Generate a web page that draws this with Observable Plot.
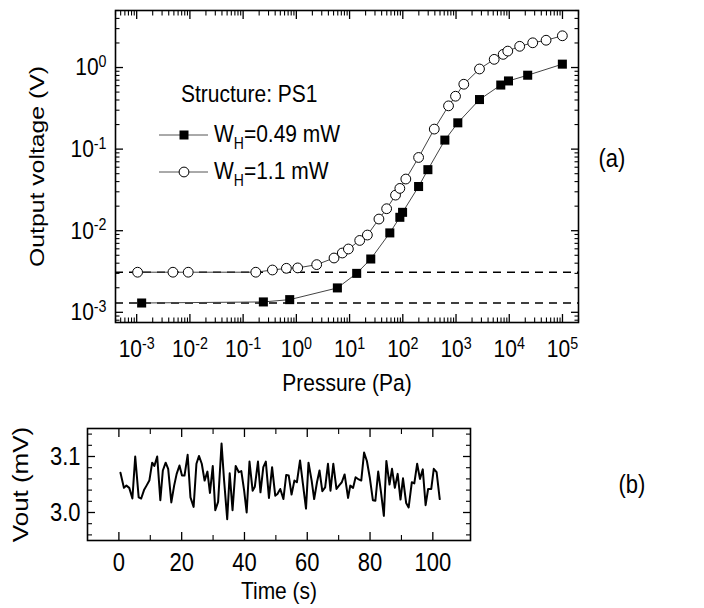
<!DOCTYPE html>
<html><head><meta charset="utf-8">
<script src="https://cdn.jsdelivr.net/npm/d3@7"></script>
<script src="https://cdn.jsdelivr.net/npm/@observablehq/plot@0.6"></script>
<style>
body{margin:0;background:#fff;}
#wrap{position:relative;width:704px;height:608px;font-family:"Liberation Sans",Arial,sans-serif;overflow:hidden;}
#wrap svg{position:absolute;left:0;overflow:visible;}
</style></head><body><div id="wrap"></div>
<script>
// ---------- Panel (a) data ----------
const pressureLow = [1.24e-3, 0.24, 0.75, 5.9, 13.6, 25, 57, 88, 99, 198, 296, 617, 1080, 2760, 6930, 9670, 22200, 99500];
const voltageLow  = [1.30e-3, 1.34e-3, 1.43e-3, 1.99e-3, 3.0e-3, 4.5e-3, 9.4e-3, 0.0146, 0.0168, 0.0348, 0.056, 0.129, 0.21, 0.405, 0.61, 0.685, 0.805, 1.10];
const pressureHigh = [1.04e-3, 4.8e-3, 9.3e-3, 0.173, 0.355, 0.65, 1.06, 2.41, 5.1, 7.3, 9.5, 15.5, 21.6, 35.6, 49.7, 73, 88, 114, 198, 390, 723, 978, 1400, 2760, 5210, 7690, 9380, 15700, 27600, 49200, 99500];
const voltageHigh  = [3.1e-3, 3.1e-3, 3.1e-3, 3.1e-3, 3.3e-3, 3.46e-3, 3.5e-3, 3.84e-3, 4.63e-3, 5.33e-3, 5.97e-3, 7.6e-3, 8.85e-3, 0.0139, 0.0186, 0.0273, 0.033, 0.043, 0.079, 0.176, 0.339, 0.445, 0.624, 0.96, 1.26, 1.45, 1.59, 1.82, 2.01, 2.16, 2.45];
const baselineLevels = [1.3e-3, 3.1e-3];
const pressureTicks = [1e-3, 1e-2, 1e-1, 1, 10, 100, 1e3, 1e4, 1e5];
const voltageTicks = [1e-3, 1e-2, 1e-1, 1];
const legendTitle = "Structure: PS1";
const seriesNames = ["0.49 mW", "1.1 mW"];

// ---------- Panel (b) data ----------
const timeS = [0.5,1.6,2.4,3.3,4.3,5.2,6.3,7.1,8.0,8.8,
 9.7,10.6,11.3,12.2,13.2,14.0,14.9,15.7,16.7,17.6,
 18.4,19.3,20.1,20.9,21.9,22.8,23.8,24.7,25.5,26.4,
 27.3,28.2,29.0,29.9,30.7,31.6,32.7,33.5,34.5,35.3,
 36.2,37.2,38.2,39.0,39.9,40.7,41.6,42.6,43.3,44.3,
 45.1,46.0,46.8,47.8,48.8,49.8,50.5,51.4,52.4,53.3,
 54.1,55.0,55.9,56.7,57.7,58.6,59.6,60.4,61.4,62.2,
 63.1,63.9,64.8,65.7,66.6,67.4,68.3,69.3,70.1,71.0,
 71.9,73.0,73.7,74.6,75.4,76.4,77.2,78.1,79.0,79.9,
 80.9,81.7,82.6,83.5,84.4,85.2,86.2,87.0,87.9,88.8,
 89.7,90.5,91.5,92.3,93.3,94.1,95.0,95.9,96.8,97.7,
 98.5,99.5,100.3,101.2,102.2];
const voutMv = [3.071,3.044,3.048,3.044,3.025,3.100,3.027,3.025,3.040,3.048,
 3.057,3.089,3.083,3.100,3.022,3.075,3.089,3.078,3.018,3.048,
 3.069,3.084,3.066,3.066,3.103,3.027,3.010,3.087,3.101,3.087,
 3.057,3.073,3.035,3.083,3.004,3.019,3.123,3.058,2.988,3.070,
 3.004,3.083,3.072,3.074,3.039,3.000,3.091,3.039,3.046,3.091,
 3.036,3.081,3.091,3.026,3.081,3.030,3.033,3.042,3.024,3.067,
 3.066,3.032,3.057,3.054,3.093,3.052,3.007,3.089,3.057,3.024,
 3.054,3.075,3.038,3.045,3.087,3.039,3.087,3.042,3.048,3.054,
 3.068,3.026,3.048,3.044,3.063,3.059,3.057,3.107,3.092,3.063,
 3.022,3.021,3.073,3.036,2.994,3.092,3.050,3.078,3.044,3.069,
 3.023,3.061,3.017,3.009,3.054,3.052,3.087,3.060,3.077,3.013,
 3.042,3.042,3.078,3.072,3.024];
const timeTicks = [0, 20, 40, 60, 80, 100];
const timeMinorTicks = [10, 30, 50, 70, 90];
const voutTicks = [3.0, 3.1];
const voutMinorTicks = [2.96, 2.98, 3.02, 3.04, 3.06, 3.08, 3.12, 3.14];

// ---------- helpers ----------
const FONT = '"Liberation Sans", Arial, sans-serif';
const STRETCH = 1.18; // the reference's lettering is drawn taller than it is wide
const blank = () => "";
function superscripts(svg) {
  svg.querySelectorAll('g[aria-label$="tick label"] text').forEach(t => {
    const s = t.textContent;
    const i = s.indexOf("^");
    if (i < 0) return;
    t.textContent = s.slice(0, i);
    const ts = document.createElementNS("http://www.w3.org/2000/svg", "tspan");
    ts.setAttribute("dy", "-0.5em");
    ts.setAttribute("font-size", "0.68em");
    ts.textContent = s.slice(i + 1);
    t.appendChild(ts);
  });
}
function stretch(svg) {
  svg.querySelectorAll("text").forEach(t => {
    const tr = t.getAttribute("transform") || "";
    t.setAttribute("transform", tr + (tr.includes("rotate") ? ` scale(${STRETCH},1)` : ` scale(1,${STRETCH})`));
  });
}
function tickAxes(axis, major, minor, anchors, majorLen, minorLen) {
  const f = axis === "x" ? Plot.axisX : Plot.axisY;
  const out = [];
  for (const a of anchors) {
    out.push(f(major, {anchor: a, tickSize: -majorLen, tickFormat: blank, label: null, strokeWidth: 1.3}));
    out.push(f(minor, {anchor: a, tickSize: -minorLen, tickFormat: blank, label: null, strokeWidth: 1.1}));
  }
  return out;
}

// ---------- Panel (a) ----------
const xDomA = [4e-4, 2e5], yDomA = [7.5e-4, 5];
const isPow = v => Math.abs(Math.log10(v) - Math.round(Math.log10(v))) < 1e-6;
const xMinorA = d3.scaleLog().domain(xDomA).ticks().filter(v => !isPow(v));
const yMinorA = d3.scaleLog().domain(yDomA).ticks().filter(v => !isPow(v));
const low = pressureLow.map((p, i) => ({p, v: voltageLow[i]}));
const high = pressureHigh.map((p, i) => ({p, v: voltageHigh[i]}));
const pow = d => "10^" + Math.round(Math.log10(d));

const plotA = Plot.plot({
  width: 704, height: 400,
  marginTop: 10, marginBottom: 78, marginLeft: 115, marginRight: 126,
  style: {fontFamily: FONT, fontSize: "21px", color: "#000", background: "none"},
  x: {type: "log", domain: xDomA, label: null},
  y: {type: "log", domain: yDomA, label: null},
  marks: [
    Plot.ruleY(baselineLevels, {stroke: "#000", strokeWidth: 1.6, strokeDasharray: "8,6"}),
    Plot.line(low, {x: "p", y: "v", stroke: "#444", strokeWidth: 1}),
    Plot.line(high, {x: "p", y: "v", stroke: "#444", strokeWidth: 1}),
    Plot.dot(low, {x: "p", y: "v", symbol: "square", r: 5.1, fill: "#000", stroke: "none"}),
    Plot.dot(high, {x: "p", y: "v", r: 4.9, fill: "#fff", stroke: "#000", strokeWidth: 1}),
    Plot.frame({stroke: "#000", strokeWidth: 1.6}),
    ...tickAxes("x", pressureTicks, xMinorA, ["bottom", "top"], 8, 4.5),
    ...tickAxes("y", voltageTicks, yMinorA, ["left", "right"], 8, 4.5),
    Plot.axisX(pressureTicks, {anchor: "bottom", tickSize: 0, tickPadding: 17, tickFormat: pow, fontSize: 21, label: null}),
    Plot.axisY(voltageTicks, {anchor: "left", tickSize: 0, tickPadding: 9, tickFormat: pow, fontSize: 21, label: null}),
    Plot.text(["Pressure (Pa)"], {text: d => d, frameAnchor: "bottom", dy: 61, textAnchor: "middle", lineAnchor: "middle", fontSize: 21}),
    Plot.text(["Output voltage (V)"], {text: d => d, frameAnchor: "left", dx: -78, rotate: -90, textAnchor: "middle", lineAnchor: "middle", fontSize: 21}),
    Plot.text(["(a)"], {text: d => d, frameAnchor: "right", dx: 20, dy: -8, textAnchor: "start", lineAnchor: "middle", fontSize: 22})
  ]
});
superscripts(plotA);
stretch(plotA);
plotA.style.top = "0px";

// ---------- Panel (b) ----------
const noise = timeS.map((t, i) => ({t, v: voutMv[i]}));
const plotB = Plot.plot({
  width: 704, height: 208,
  marginTop: 28, marginBottom: 68, marginLeft: 87, marginRight: 234,
  style: {fontFamily: FONT, fontSize: "21px", color: "#000", background: "none"},
  x: {domain: [-10, 112], label: null},
  y: {domain: [2.95, 3.15], label: null},
  marks: [
    Plot.line(noise, {x: "t", y: "v", stroke: "#000", strokeWidth: 2}),
    Plot.frame({stroke: "#000", strokeWidth: 1.6}),
    ...tickAxes("x", timeTicks, timeMinorTicks, ["bottom", "top"], 8, 5),
    ...tickAxes("y", voutTicks, voutMinorTicks, ["left", "right"], 8, 5),
    Plot.axisX(timeTicks, {anchor: "bottom", tickSize: 0, tickPadding: 12, tickFormat: d => String(d), fontSize: 22, label: null}),
    Plot.axisY(voutTicks, {anchor: "left", tickSize: 0, tickPadding: 7, tickFormat: d => d.toFixed(1), fontSize: 22, label: null}),
    Plot.text(["Time (s)"], {text: d => d, frameAnchor: "bottom", dy: 51, textAnchor: "middle", lineAnchor: "middle", fontSize: 21}),
    Plot.text(["Vout (mV)"], {text: d => d, frameAnchor: "left", dx: -67, rotate: -90, textAnchor: "middle", lineAnchor: "middle", fontSize: 22}),
    Plot.text(["(b)"], {text: d => d, frameAnchor: "right", dx: 148, textAnchor: "start", lineAnchor: "middle", fontSize: 22})
  ]
});
stretch(plotB);
plotB.style.top = "400px";

// ---------- Legend (panel a) ----------
const NS = "http://www.w3.org/2000/svg";
const leg = document.createElementNS(NS, "svg");
leg.setAttribute("width", 300); leg.setAttribute("height", 200);
leg.style.top = "0px";
leg.setAttribute("font-family", FONT);
function el(name, attrs, parent) {
  const e = document.createElementNS(NS, name);
  for (const k in attrs) e.setAttribute(k, attrs[k]);
  parent.appendChild(e); return e;
}
const title = el("text", {transform: `translate(181,102) scale(1,${STRETCH})`, "font-size": 21}, leg);
title.textContent = legendTitle;
const rowsY = [135, 172];
seriesNames.forEach((name, i) => {
  const y = rowsY[i];
  el("line", {x1: 159, x2: 208, y1: y, y2: y, stroke: "#555", "stroke-width": 1}, leg);
  if (i === 0) el("rect", {x: 179.5, y: y - 4.5, width: 9, height: 9, fill: "#000"}, leg);
  else el("circle", {cx: 184, cy: y, r: 4.9, fill: "#fff", stroke: "#000", "stroke-width": 1}, leg);
  const t = el("text", {transform: `translate(214,${y + 7}) scale(1,${STRETCH})`, "font-size": 21}, leg);
  t.appendChild(document.createTextNode("W"));
  const sub = el("tspan", {dy: 6, "font-size": 14}, t); sub.textContent = "H";
  const rest = el("tspan", {dy: -6}, t); rest.textContent = "=" + name;
});

const wrap = document.getElementById("wrap");
wrap.appendChild(plotA);
wrap.appendChild(plotB);
wrap.appendChild(leg);
</script>
</body></html>
